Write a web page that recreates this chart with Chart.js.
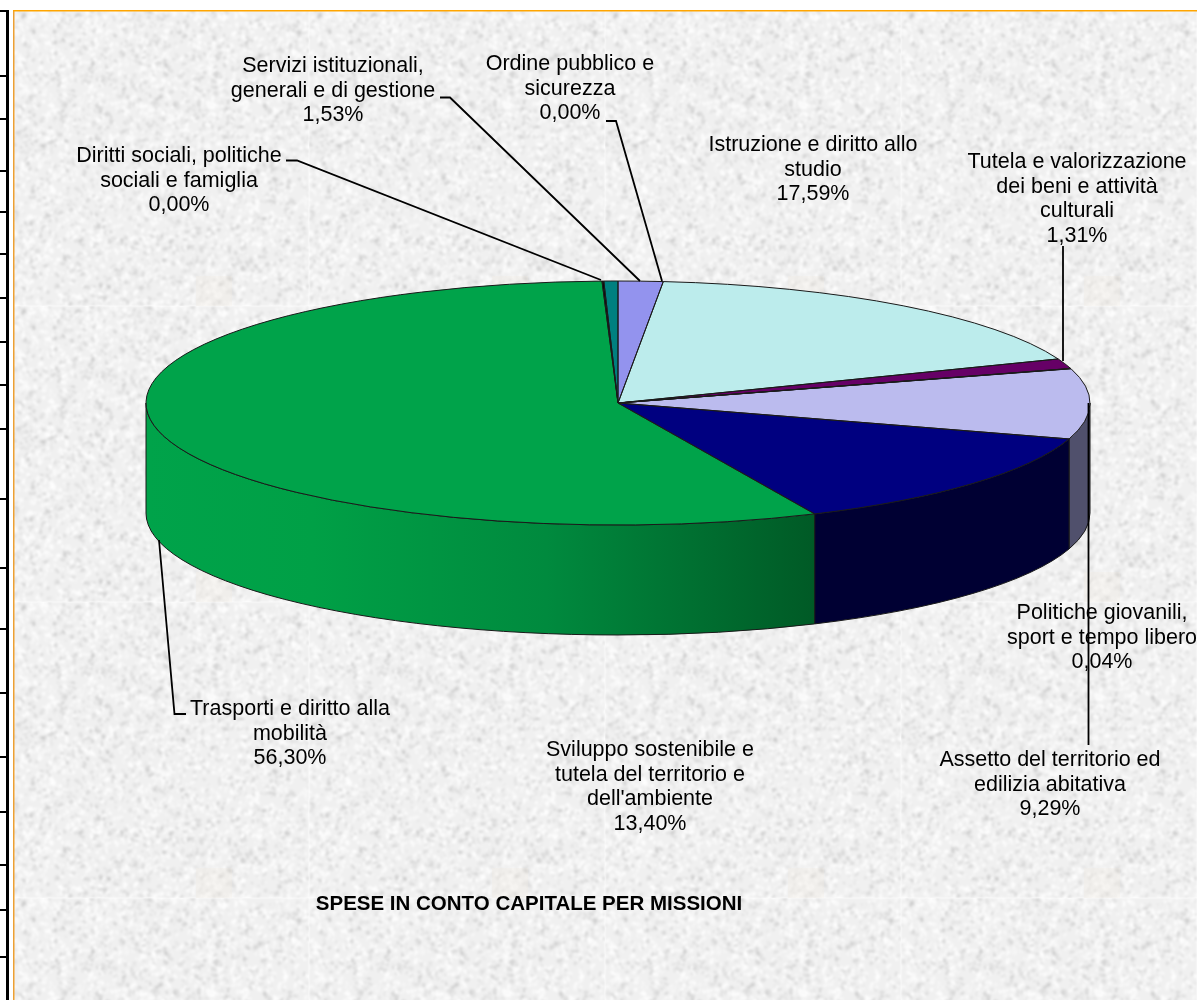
<!DOCTYPE html>
<html>
<head>
<meta charset="utf-8">
<title>Spese in conto capitale per missioni</title>
<script src="https://cdn.jsdelivr.net/npm/chart.js@4/dist/chart.umd.min.js"></script>
<style>
html, body { margin: 0; padding: 0; background: #fff; }
canvas { display: block; }
</style>
</head>
<body>
<canvas id="grafica-missioni" width="1197" height="1000"></canvas>
<script>
// dati
const missioni = [
    'Servizi istituzionali, generali e di gestione',
    'Ordine pubblico e sicurezza',
    'Istruzione e diritto allo studio',
    'Tutela e valorizzazione dei beni e attività culturali',
    'Politiche giovanili, sport e tempo libero',
    'Assetto del territorio ed edilizia abitativa',
    'Sviluppo sostenibile e tutela del territorio e dell\'ambiente',
    'Trasporti e diritto alla mobilità',
    'Diritti sociali, politiche sociali e famiglia',
    '',
    ''
];
const percentuali = [1.53, 0.00, 17.59, 1.31, 0.04, 9.29, 13.40, 56.30, 0.00, 0.06, 0.48];
const titolo = 'SPESE IN CONTO CAPITALE PER MISSIONI';

// colori
const coloriSopra = ['#9393ee', '#993366', '#bcecec', '#660066', '#0066cc', '#bbbbee', '#000080', '#00a34a', '#006666', '#000000', '#008080'];
const coloriLato = ['#4c4c77', '#4c1933', '#5e7676', '#330033', '#003366', '#50506c', '#000033', '#00a34a', '#003333', '#000000', '#004040'];

// etichette: righe di testo, centro x, y della prima riga
const righeEtichette = [
    ['Servizi istituzionali,', 'generali e di gestione'],
    ['Ordine pubblico e', 'sicurezza'],
    ['Istruzione e diritto allo', 'studio'],
    ['Tutela e valorizzazione', 'dei beni e attività', 'culturali'],
    ['Politiche giovanili,', 'sport e tempo libero'],
    ['Assetto del territorio ed', 'edilizia abitativa'],
    ['Sviluppo sostenibile e', 'tutela del territorio e', 'dell\'ambiente'],
    ['Trasporti e diritto alla', 'mobilità'],
    ['Diritti sociali, politiche', 'sociali e famiglia']
];
const etichetteX = [333, 570, 813, 1077, 1102, 1050, 650, 290, 179];
const etichetteY = [66, 64, 145, 162, 613, 760, 750, 709, 156];

// linee guida delle etichette
const guide = [
    [[440, 97.5], [450, 97.5], [640, 281]],
    [[606, 121], [616, 121], [662, 281]],
    [[1063, 246], [1063, 361]],
    [[1088.5, 403], [1088.5, 745]],
    [[186, 714], [174.5, 714], [159, 540]],
    [[286, 160.5], [297, 160.5], [601, 280]]
];

// bordi delle celle del foglio a sinistra
const tacche = [11, 76, 119, 171, 212, 254, 298, 342, 385, 429, 499, 568, 629, 693, 757, 812, 865, 910, 957];

const centroY = 403;
const raggioY = 122;
const profondita = 110;
const altezzaRiga = 24.7;

function creaTrama () {
    // generatore fisso, la trama esce sempre uguale
    var seme = 4711;
    function caso () {
        seme = (seme * 1664525 + 1013904223) % 4294967296;
        return seme / 4294967296;
    }
    var lato = 296;
    var grezza = document.createElement('canvas');
    grezza.width = lato;
    grezza.height = lato;
    var g = grezza.getContext('2d');
    g.fillStyle = '#f0f0f0';
    g.fillRect(0, 0, lato, lato);
    for (var i = 0; i < 5200; i++) {
        var scuro = caso() < 0.42;
        g.fillStyle = scuro ? 'rgba(175,175,175,' + (0.08 + caso() * 0.24) + ')' : 'rgba(255,255,255,' + (0.3 + caso() * 0.5) + ')';
        g.beginPath();
        g.ellipse(caso() * lato, caso() * lato, 1 + caso() * 2.4, 1 + caso() * 1.3, caso() * Math.PI, 0, Math.PI * 2);
        g.fill();
    }
    var tile = document.createElement('canvas');
    tile.width = lato;
    tile.height = lato;
    var t = tile.getContext('2d');
    t.filter = 'blur(1.1px)';
    t.drawImage(grezza, 0, 0);
    t.filter = 'none';
    // marchio chiaro in basso a destra
    t.fillStyle = 'rgba(242,234,226,0.3)';
    t.fillRect(183, 266, 36, 30);
    return tile;
}

const tileTrama = creaTrama();

const sfondo = {
    id: 'sfondo',
    beforeDraw (chart) {
        var ctx = chart.ctx;
        ctx.save();
        ctx.fillStyle = '#ffffff';
        ctx.fillRect(0, 0, chart.width, chart.height);
        // area con trama
        ctx.translate(13, 10);
        ctx.fillStyle = ctx.createPattern(tileTrama, 'repeat');
        ctx.fillRect(0, 0, chart.width - 13, chart.height - 10);
        ctx.restore();

        ctx.save();
        ctx.fillStyle = '#eda033';
        ctx.fillRect(13, 10, 1.5, chart.height - 10);
        ctx.fillStyle = '#ffa500';
        ctx.fillRect(13, 10, chart.width - 13, 1.5);
        ctx.fillStyle = '#000000';
        ctx.fillRect(6, 10, 3, chart.height - 10);
        tacche.forEach(function (y) {
            ctx.fillRect(0, y - 1, 8, 2);
        });
        ctx.restore();
    }
};

const torta3d = {
    id: 'torta3d',
    beforeDatasetsDraw (chart) {
        var ctx = chart.ctx;
        var archi = chart.getDatasetMeta(0).data;
        var cx = archi[0].x;
        var rx = archi[0].outerRadius;

        // parete del cilindro: solo la parte davanti
        ctx.save();
        archi.forEach(function (arco, i) {
            var a = Math.max(arco.startAngle, 0);
            var b = Math.min(arco.endAngle, Math.PI);
            if (b <= a) return;
            var colore = coloriLato[i];
            if (missioni[i].indexOf('Trasporti') === 0) {
                colore = ctx.createLinearGradient(cx - rx, 0, cx + rx * 0.415, 0);
                colore.addColorStop(0, '#00a34a');
                colore.addColorStop(0.25, '#00a046');
                colore.addColorStop(0.6, '#008a3e');
                colore.addColorStop(1, '#005a26');
            }
            ctx.beginPath();
            ctx.ellipse(cx, centroY, rx, raggioY, 0, a, b);
            ctx.ellipse(cx, centroY + profondita, rx, raggioY, 0, b, a, true);
            ctx.closePath();
            ctx.fillStyle = colore;
            ctx.fill();
            ctx.strokeStyle = '#1a1a1a';
            ctx.lineWidth = 1;
            ctx.stroke();
        });
        ctx.restore();

        // la faccia superiore viene schiacciata in un'ellisse
        ctx.save();
        ctx.translate(cx, centroY);
        ctx.scale(1, raggioY / rx);
        ctx.translate(-cx, -archi[0].y);
    },
    afterDatasetsDraw (chart) {
        var ctx = chart.ctx;
        ctx.restore();

        var archi = chart.getDatasetMeta(0).data;
        var cx = archi[0].x;
        var rx = archi[0].outerRadius;

        // contorni degli spicchi
        ctx.save();
        ctx.strokeStyle = '#1a1a1a';
        ctx.lineWidth = 1;
        archi.forEach(function (arco) {
            if (arco.endAngle <= arco.startAngle) return;
            ctx.beginPath();
            ctx.moveTo(cx, centroY);
            ctx.ellipse(cx, centroY, rx, raggioY, 0, arco.startAngle, arco.endAngle);
            ctx.closePath();
            ctx.stroke();
        });
        ctx.restore();

        // etichette
        ctx.save();
        ctx.fillStyle = '#000000';
        ctx.textAlign = 'center';
        ctx.textBaseline = 'middle';
        ctx.font = '21.5px "Liberation Sans", Arial, sans-serif';
        righeEtichette.forEach(function (righe, i) {
            var testo = righe.concat(percentuali[i].toFixed(2).replace('.', ',') + '%');
            testo.forEach(function (riga, n) {
                ctx.fillText(riga, etichetteX[i], etichetteY[i] + n * altezzaRiga);
            });
        });
        ctx.font = 'bold 20.5px "Liberation Sans", Arial, sans-serif';
        ctx.fillText(titolo, 529, 904);
        ctx.restore();

        // linee guida
        ctx.save();
        ctx.strokeStyle = '#000000';
        ctx.lineWidth = 1.8;
        guide.forEach(function (punti) {
            ctx.beginPath();
            punti.forEach(function (p, n) {
                if (n === 0) ctx.moveTo(p[0], p[1]);
                else ctx.lineTo(p[0], p[1]);
            });
            ctx.stroke();
        });
        ctx.restore();
    }
};

var myChart = new Chart(document.getElementById('grafica-missioni'), {
    type: 'pie',
    data: {
        labels: missioni,
        datasets: [{
            label: 'Spese',
            data: percentuali,
            backgroundColor: coloriSopra,
            borderWidth: 0,
            clip: false
        }]
    },
    options: {
        responsive: false,
        animation: false,
        events: [],
        layout: {
            padding: { left: 146, right: 107, top: 28, bottom: 28 }
        },
        plugins: {
            legend: { display: false },
            tooltip: { enabled: false },
            title: { display: false }
        }
    },
    plugins: [sfondo, torta3d]
});
</script>
</body>
</html>
